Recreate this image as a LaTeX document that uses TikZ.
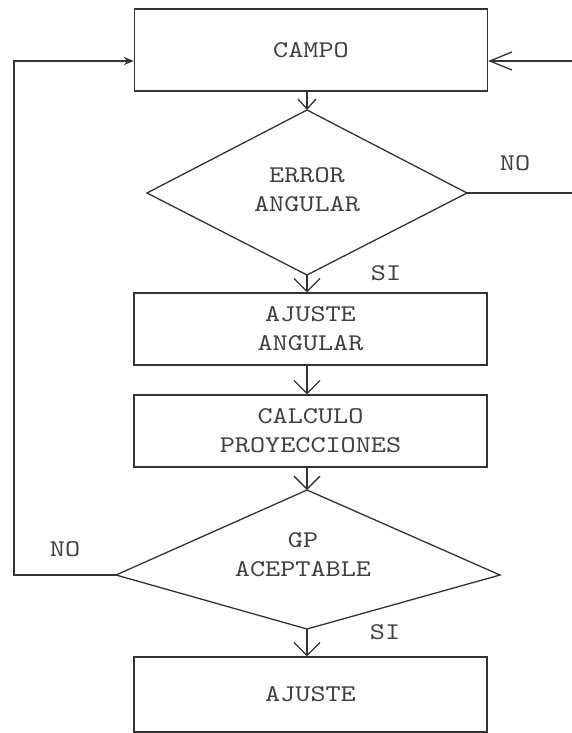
\documentclass[tikz,border=0pt]{standalone}
\usepackage{fontspec}
\newfontfamily\cour[FakeStretch=1.2]{lmmono10-regular.otf}
\usetikzlibrary{arrows.meta}
\begin{document}
\begin{tikzpicture}[x=1pt,y=-1pt,
  line/.style={draw=black!80, line width=1.3pt},
  txt/.style={text=black!75, font=\cour\fontsize{24}{29}\selectfont, align=center, inner sep=0pt},
  box/.style={line, rectangle, txt},
  bigtip/.style={-{Straight Barb[length=13pt,width=26pt]}},
  smalltip/.style={-{Straight Barb[length=10pt,width=18pt]}},
  sidetip/.style={-{Straight Barb[length=22pt,width=18pt]}},
  lefttip/.style={-{Stealth[length=10pt,width=8pt]}}]
\useasboundingbox (0,0) rectangle (572,733);
% boxes
\node[box, minimum width=353pt, minimum height=82pt] (campo) at (311,50) {CAMPO};
\node[box, minimum width=353pt, minimum height=72pt] (ajang) at (310.5,329) {AJUSTE\\ANGULAR};
\node[box, minimum width=353pt, minimum height=72pt] (calc) at (310.5,431) {CALCULO\\PROYECCIONES};
\node[box, minimum width=353pt, minimum height=75pt] (ajuste) at (310.5,694.5) {AJUSTE};
% diamond 1
\coordinate (d1t) at (307,110);
\coordinate (d1l) at (147,193);
\coordinate (d1r) at (467,193);
\coordinate (d1b) at (307,275);
\draw[line, line join=miter] (d1t) -- (d1r) -- (d1b) -- (d1l) -- cycle;
\node[txt] (err) at (307,190) {ERROR\\ANGULAR};
% diamond 2
\coordinate (d2t) at (307,490);
\coordinate (d2l) at (116,575);
\coordinate (d2r) at (500,575);
\coordinate (d2b) at (307,629);
\draw[line, line join=miter] (d2t) -- (d2r) -- (d2b) -- (d2l) -- cycle;
\node[txt] (gp) at (303,555) {GP\\ACEPTABLE};
% loop corners
\coordinate (rt) at (575,61);
\coordinate (lt) at (14,61);
% connectors
\draw[line, smalltip] (campo.south -| d1t) -- (d1t);
\draw[line, bigtip] (d1b) -- (ajang.north -| d1b);
\draw[line, bigtip] (ajang.south -| d1b) -- (calc.north -| d1b);
\draw[line, bigtip] (calc.south -| d2t) -- (d2t);
\draw[line, bigtip] (d2b) -- (ajuste.north -| d2b);
\draw[line, sidetip] (d1r) -| (rt) -- (campo.east |- rt);
\draw[line, lefttip] (d2l) -| (lt) -- (campo.west |- lt);
% labels
\node[txt] (no1) at (515,163) {NO};
\node[txt] (si1) at (386,273) {SI};
\node[txt] (no2) at (65,549) {NO};
\node[txt] (si2) at (385,632) {SI};
\end{tikzpicture}
\end{document}
